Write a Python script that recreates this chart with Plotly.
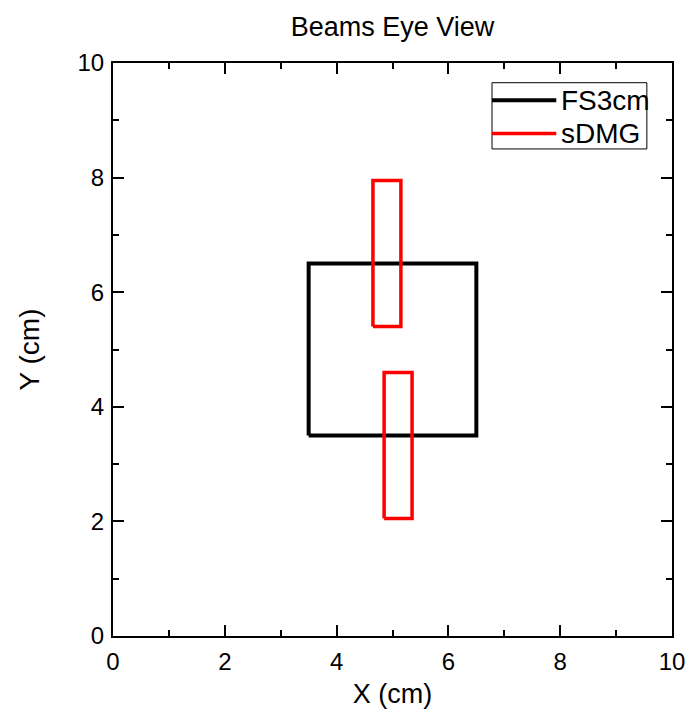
import plotly.graph_objects as go

# Data (cm)
fs_x = [3.5, 6.5, 6.5, 3.5, 3.5]
fs_y = [3.5, 3.5, 6.5, 6.5, 3.5]
sdmg_x = [4.65, 5.15, 5.15, 4.65, 4.65, None, 4.85, 5.35, 5.35, 4.85, 4.85]
sdmg_y = [5.4, 5.4, 7.95, 7.95, 5.4, None, 2.05, 2.05, 4.6, 4.6, 2.05]
tick_vals = [0, 2, 4, 6, 8, 10]
series_names = ["FS3cm", "sDMG"]
series_colors = ["black", "red"]

FONT = "Arial, Liberation Sans, sans-serif"

fig = go.Figure()
fig.add_trace(go.Scatter(x=fs_x, y=fs_y, mode="lines", name=series_names[0],
                         line=dict(color=series_colors[0], width=4), showlegend=False))
fig.add_trace(go.Scatter(x=sdmg_x, y=sdmg_y, mode="lines", name=series_names[1],
                         line=dict(color=series_colors[1], width=3.5), showlegend=False))

axis_common = dict(
    range=[0, 10], tickvals=tick_vals, ticks="inside", ticklen=11, tickwidth=2,
    tickcolor="black", showline=True, linewidth=2, linecolor="black",
    mirror="allticks", showgrid=False, zeroline=False, automargin=False,
    tickfont=dict(family=FONT, size=24, color="black"),
    minor=dict(dtick=1, ticks="inside", ticklen=6, tickwidth=2, tickcolor="black", showgrid=False),
)

fig.update_layout(
    width=687, height=714,
    margin=dict(l=113, r=15, t=63, b=78),
    paper_bgcolor="white", plot_bgcolor="white",
    font=dict(family=FONT, color="black"),
    title=dict(text="Beams Eye View", x=(113 + 672) / 2 / 687, xanchor="center",
               y=1 - 27 / 714, yanchor="middle", font=dict(family=FONT, size=27, color="black")),
    xaxis=dict(**axis_common, ticklabelstandoff=3,
               title=dict(text="X (cm)", font=dict(family=FONT, size=27), standoff=10)),
    yaxis=dict(**axis_common, ticklabelstandoff=2,
               title=dict(text="Y (cm)", font=dict(family=FONT, size=28), standoff=30)),
)

# Custom legend (box, sample lines, labels)
lx0, lx1, ly0, ly1 = 0.678, 0.955, 0.850, 0.9656
fig.add_shape(type="rect", xref="paper", yref="paper", x0=lx0, x1=lx1, y0=ly0, y1=ly1,
              line=dict(color="black", width=1), fillcolor="white", layer="above")
rows_y = [0.935, 0.877]
widths = [4, 3.5]
for name, color, yy, w in zip(series_names, series_colors, rows_y, widths):
    fig.add_shape(type="line", xref="paper", yref="paper", x0=lx0, x1=0.793, y0=yy, y1=yy,
                  line=dict(color=color, width=w), layer="above")
    fig.add_annotation(xref="paper", yref="paper", x=0.797, y=yy, text=name, showarrow=False,
                       xanchor="left", yanchor="middle",
                       font=dict(family=FONT, size=28, color="black"))

fig.write_html("out.html")
